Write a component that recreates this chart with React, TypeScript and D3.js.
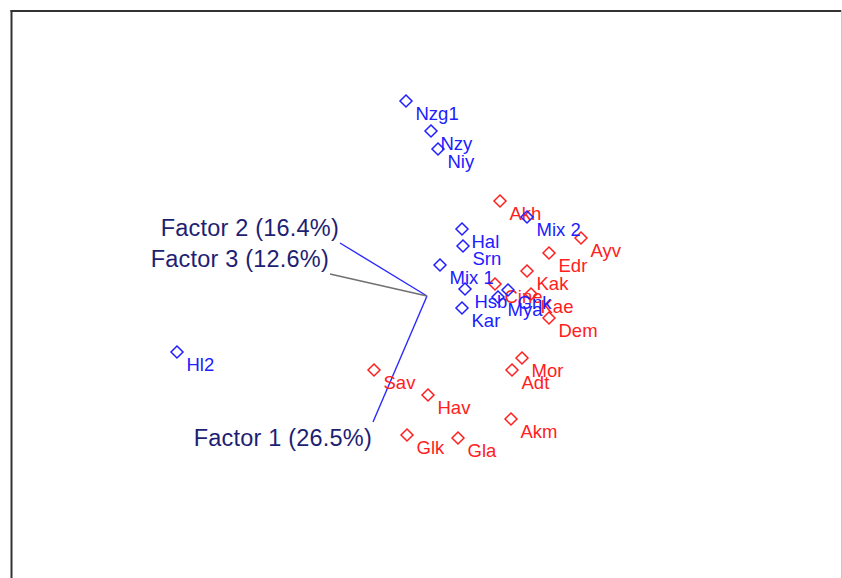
import React from "react";
import * as d3 from "d3";

// Ordination scores (data units)
const blueNames = ["Nzg1", "Nzy", "Niy", "Hal", "Srn", "Mix 1", "Hsb", "Kar", "Mya", "Gnk", "Mix 2", "Hl2"];
const blueX = [-0.105, 0.02, 0.055, 0.175, 0.18, 0.065, 0.19, 0.175, 0.355, 0.405, 0.5, -1.25];
const blueY = [0.975, 0.825, 0.735, 0.335, 0.25, 0.155, 0.035, -0.06, -0.005, 0.03, 0.395, -0.28];

const redNames = ["Akh", "Ayv", "Edr", "Kak", "Cine", "Kae", "Dem", "Mor", "Adt", "Sav", "Hav", "Akm", "Glk", "Gla"];
const redX = [0.365, 0.77, 0.61, 0.5, 0.34, 0.52, 0.61, 0.475, 0.425, -0.265, 0.005, 0.42, -0.1, 0.155];
const redY = [0.475, 0.29, 0.215, 0.125, 0.06, 0.01, -0.11, -0.31, -0.37, -0.37, -0.495, -0.615, -0.695, -0.71];

const factorLabels = ["Factor 1 (26.5%)", "Factor 2 (16.4%)", "Factor 3 (12.6%)"];
const factorX = [-0.27, -0.435, -0.485];
const factorY = [-0.63, 0.265, 0.11];
const factorColors = ["#2a2aff", "#2a2aff", "#707070"];

const W = 842;
const H = 578;

export default function App() {
  const x = d3.scaleLinear().domain([-2, 2]).range([27, 827]);
  const y = d3.scaleLinear().domain([-2, 2]).range([696, -104]);
  const r = 6;
  const diamond = (cx: number, cy: number) =>
    `M${cx},${cy - r}L${cx + r},${cy}L${cx},${cy + r}L${cx - r},${cy}Z`;

  const blue = blueNames.map((n, i) => ({ n, x: blueX[i], y: blueY[i] }));
  const red = redNames.map((n, i) => ({ n, x: redX[i], y: redY[i] }));

  const font = "'Liberation Sans', Arial, sans-serif";

  const drawPts = (pts: { n: string; x: number; y: number }[], color: string) =>
    pts.map((p) => {
      const cx = x(p.x);
      const cy = y(p.y);
      return (
        <g key={p.n}>
          <path d={diamond(cx, cy)} fill="none" stroke={color} strokeWidth={1.5} />
          <text x={cx + 9.5} y={cy + 19} fill={color} fontSize={18.5} fontFamily={font}>
            {p.n}
          </text>
        </g>
      );
    });

  return (
    <svg width={W} height={H} style={{ position: "absolute", left: 0, top: 0, background: "#fff" }}>
      <rect x={0} y={0} width={W} height={H} fill="#fff" />
      <line x1={11.5} y1={10} x2={11.5} y2={H} stroke="#333" strokeWidth={2} />
      <line x1={10.5} y1={11} x2={W - 1} y2={11} stroke="#333" strokeWidth={2} />
      <line x1={W - 0.5} y1={10} x2={W - 0.5} y2={H} stroke="#c8c8c8" strokeWidth={1} />

      {factorLabels.map((lab, i) => {
        const x0 = x(0), y0 = y(0);
        const x1 = x(factorX[i]), y1 = y(factorY[i]);
        const below = factorY[i] < -0.5;
        return (
          <g key={lab}>
            <line x1={x0} y1={y0} x2={x1} y2={y1} stroke={factorColors[i]} strokeWidth={1.4} />
            <text
              x={x1 - 1}
              y={below ? y1 + 24 : y1 - 7}
              textAnchor="end"
              fill="#1e1e72"
              fontSize={23.5}
              letterSpacing={0.2}
              fontFamily={font}
            >
              {lab}
            </text>
          </g>
        );
      })}

      {drawPts(red, "#ff2020")}
      {drawPts(blue, "#2020ff")}
    </svg>
  );
}
